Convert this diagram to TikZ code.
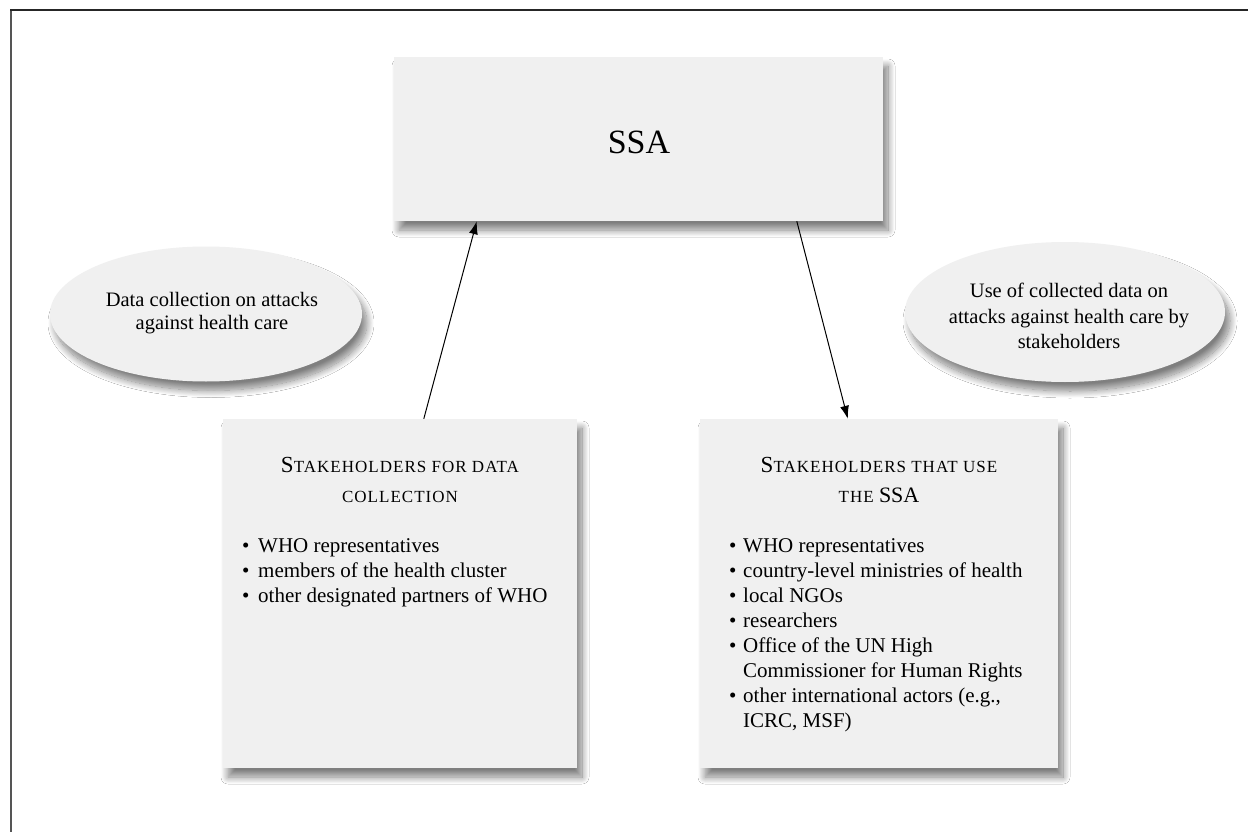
\documentclass[tikz,border=0pt]{standalone}
\usepackage{fontspec}
\setmainfont{Liberation Serif}
\usetikzlibrary{shadows.blur,arrows.meta,shapes.geometric}
\definecolor{boxfill}{RGB}{240,240,240}
\definecolor{framegray}{RGB}{85,85,85}
\newcommand{\bigS}[1]{{\fontsize{23}{30}\selectfont #1}}
\newcommand{\plainSSA}{{\fontsize{22}{30}\selectfont\addfontfeature{LetterSpace=0}SSA}}
\tikzset{
  shadowed/.style={fill=boxfill, draw=none,
    blur shadow={shadow xshift=5pt, shadow yshift=-9pt, shadow blur steps=16, shadow blur radius=7pt, shadow opacity=50}},
  sbox/.style={shadowed, rectangle, inner sep=0pt},
  bubble/.style={shadowed, ellipse, inner sep=0pt},
  conn/.style={line width=1pt, -{Latex[length=13pt,width=9pt]}},
  titletext/.style={anchor=north, inner sep=0pt, align=center, font=\fontsize{17}{30}\selectfont\addfontfeature{LetterSpace=6}},
  listtext/.style={anchor=north west, inner sep=0pt, font=\fontsize{21}{25}\selectfont},
  bubbletext/.style={inner sep=0pt, align=center}
}
\begin{document}
\begin{tikzpicture}[x=1pt,y=-1pt]
\useasboundingbox (0,0) rectangle (1248,832);
\fill[white] (0,0) rectangle (1248,832);
% frame
\draw[framegray, line width=2pt] (11,832) -- (11,10);
\draw[black!85, line width=1.6pt] (10,10) -- (1248,10);

% top box
\node[sbox, minimum width=489pt, minimum height=164pt] (ssa) at (638.5,139) {};
\node[inner sep=0pt, font=\fontsize{34}{40}\selectfont] (ssat) at (639,142) {SSA};

% ellipses
\node[bubble, minimum width=312pt, minimum height=135pt] (el) at (206,314) {};
\node[bubbletext, font=\fontsize{20.5}{23}\selectfont] (elt) at (212,313) {Data collection on attacks\\against health care};
\node[bubble, minimum width=320pt, minimum height=140pt] (er) at (1065,312) {};
\node[bubbletext, font=\fontsize{20.5}{25.5}\selectfont] (ert) at (1069,316) {Use of collected data on\\attacks against health care by\\stakeholders};

% bottom boxes
\node[sbox, minimum width=354pt, minimum height=349pt] (sl) at (400,593.5) {};
\node[sbox, minimum width=358pt, minimum height=349pt] (sr) at (879,593.5) {};

\node[titletext] (slt) at (400,457) {\bigS{S}TAKEHOLDERS FOR DATA\\COLLECTION};
\node[titletext] (srt) at (879,457) {\bigS{S}TAKEHOLDERS THAT USE\\THE \plainSSA};

\node[listtext] (sll) at (242,534.5) {%
\begin{tabular}{@{}l@{}l@{}}
\makebox[16pt][l]{\textbullet} & WHO representatives\\
\makebox[16pt][l]{\textbullet} & members of the health cluster\\
\makebox[16pt][l]{\textbullet} & other designated partners of WHO
\end{tabular}};

\node[listtext] (srl) at (729,534.5) {%
\begin{tabular}{@{}l@{}l@{}}
\makebox[14pt][l]{\textbullet} & WHO representatives\\
\makebox[14pt][l]{\textbullet} & country-level ministries of health\\
\makebox[14pt][l]{\textbullet} & local NGOs\\
\makebox[14pt][l]{\textbullet} & researchers\\
\makebox[14pt][l]{\textbullet} & Office of the UN High\\
 & Commissioner for Human Rights\\
\makebox[14pt][l]{\textbullet} & other international actors (e.g.,\\
 & ICRC, MSF)
\end{tabular}};

% connectors
\draw[conn] ([xshift=201pt]sl.north west) -- ([xshift=83pt]ssa.south west);
\draw[conn] ([xshift=403pt]ssa.south west) -- ([xshift=148pt]sr.north west);
\end{tikzpicture}
\end{document}
